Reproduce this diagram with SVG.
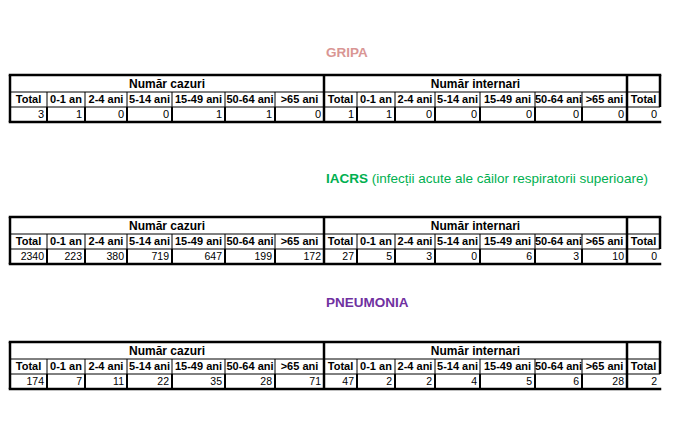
<svg xmlns="http://www.w3.org/2000/svg" xmlns:xlink="http://www.w3.org/1999/xlink" width="686" height="440" viewBox="0 0 686 440">
<style>
.thick{stroke:#000;stroke-width:2.5;fill:none}
.thin{stroke:#000;stroke-width:1;fill:none}
.mid{stroke:#000;stroke-width:2;fill:none}
.title{font-family:"Liberation Sans",Arial,sans-serif;font-size:13.5px;font-weight:bold}
.h1{font-family:"Liberation Sans",Arial,sans-serif;font-size:12px;font-weight:bold;text-anchor:middle;fill:#000}
.h2{font-family:"Liberation Sans",Arial,sans-serif;font-size:11px;font-weight:bold;text-anchor:middle;fill:#000}
.d{font-family:"Liberation Sans",Arial,sans-serif;font-size:11px;text-anchor:end;fill:#000}
.dn{font-family:"Liberation Sans",Arial,sans-serif;font-size:10.5px;text-anchor:end;fill:#000}
</style>
<defs>
<g id="grid">
<line class="thin" x1="10" y1="17" x2="660" y2="17"/>
<line class="thin" x1="10" y1="32" x2="660" y2="32"/>
<path class="thin" d="M47 17V32M85 17V32M127 17V32M172 17V32M225 17V32M275 17V32M357 17V32M395 17V32M435 17V32M480 17V32M535 17V32M582 17V32"/>
<path class="mid" d="M47 32V47M85 32V47M127 32V47M172 32V47M225 32V47M275 32V47M357 32V47M395 32V47M435 32V47M480 32V47M535 32V47M582 32V47"/>
<line class="thick" x1="8.75" y1="0" x2="661.25" y2="0"/>
<line class="thick" x1="8.75" y1="47" x2="661.25" y2="47"/>
<line class="thick" x1="10" y1="0" x2="10" y2="47"/>
<line class="thick" x1="324" y1="0" x2="324" y2="47"/>
<line class="thick" x1="627" y1="0" x2="627" y2="47"/>
<line class="thick" x1="660" y1="0" x2="660" y2="32"/>
</g>
<g id="heads">
<text class="h1" x="167" y="13">Număr cazuri</text>
<text class="h1" x="475.5" y="13">Număr internari</text>
<text class="h2" x="28.5" y="28">Total</text>
<text class="h2" x="66" y="28">0-1 an</text>
<text class="h2" x="106" y="28">2-4 ani</text>
<text class="h2" x="149.5" y="28">5-14 ani</text>
<text class="h2" x="198.5" y="28">15-49 ani</text>
<text class="h2" x="250" y="28">50-64 ani</text>
<text class="h2" x="299.5" y="28">&gt;65 ani</text>
<text class="h2" x="340.5" y="28">Total</text>
<text class="h2" x="376" y="28">0-1 an</text>
<text class="h2" x="415" y="28">2-4 ani</text>
<text class="h2" x="457.5" y="28">5-14 ani</text>
<text class="h2" x="507.5" y="28">15-49 ani</text>
<text class="h2" x="558.5" y="28">50-64 ani</text>
<text class="h2" x="604.5" y="28">&gt;65 ani</text>
<text class="h2" x="643.5" y="28">Total</text>
</g>
</defs>

<g id="gripa">
<text class="title" x="326" y="57" fill="#D99694">GRIPA</text>
<g transform="translate(0,75)">
<use xlink:href="#grid"/>
<use xlink:href="#heads"/>
<g class="d">
<text x="44" y="43">3</text><text x="82" y="43">1</text><text x="124" y="43">0</text><text x="169" y="43">0</text><text x="222" y="43">1</text><text x="272" y="43">1</text><text x="321" y="43">0</text>
<text x="354" y="43">1</text><text x="392" y="43">1</text><text x="432" y="43">0</text><text x="477" y="43">0</text><text x="532" y="43">0</text><text x="579" y="43">0</text><text x="624" y="43">0</text><text x="657" y="43">0</text>
</g>
</g>
</g>

<g id="iacrs">
<text class="title" x="326" y="183" fill="#00B050">IACRS<tspan font-weight="normal"> (infecții acute ale căilor respiratorii superioare)</tspan></text>
<g transform="translate(0,217)">
<use xlink:href="#grid"/>
<use xlink:href="#heads"/>
<g class="dn">
<text x="44" y="43">2340</text><text x="82" y="43">223</text><text x="124" y="43">380</text><text x="169" y="43">719</text><text x="222" y="43">647</text><text x="272" y="43">199</text><text x="321" y="43">172</text>
<text x="354" y="43">27</text><text x="392" y="43">5</text><text x="432" y="43">3</text><text x="477" y="43">0</text><text x="532" y="43">6</text><text x="579" y="43">3</text><text x="624" y="43">10</text><text x="657" y="43">0</text>
</g>
</g>
</g>

<g id="pneumonia">
<text class="title" x="326" y="307" fill="#7030A0">PNEUMONIA</text>
<g transform="translate(0,342)">
<use xlink:href="#grid"/>
<use xlink:href="#heads"/>
<g class="dn">
<text x="44" y="43">174</text><text x="82" y="43">7</text><text x="124" y="43">11</text><text x="169" y="43">22</text><text x="222" y="43">35</text><text x="272" y="43">28</text><text x="321" y="43">71</text>
<text x="354" y="43">47</text><text x="392" y="43">2</text><text x="432" y="43">2</text><text x="477" y="43">4</text><text x="532" y="43">5</text><text x="579" y="43">6</text><text x="624" y="43">28</text><text x="657" y="43">2</text>
</g>
</g>
</g>
</svg>
